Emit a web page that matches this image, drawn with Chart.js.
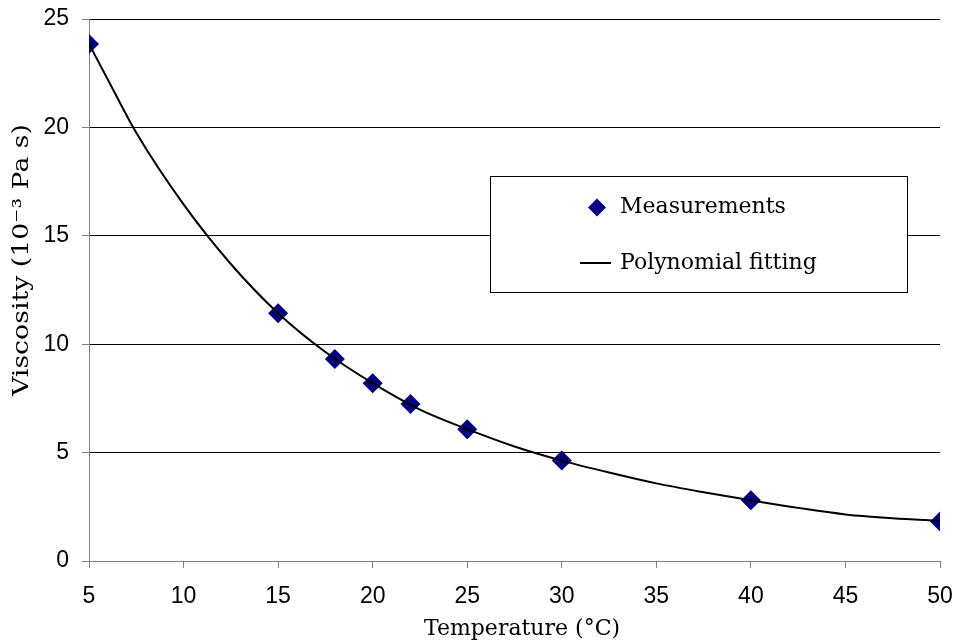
<!DOCTYPE html>
<html><head><meta charset="utf-8">
<script src="https://cdn.jsdelivr.net/npm/chart.js@4"></script>
<style>html,body{margin:0;padding:0;background:#fff}#wrap{width:956px;height:642px}</style>
</head><body><div id="wrap"><canvas id="c" width="956" height="642"></canvas></div>
<script>
const measTemp = [5, 15, 18, 20, 22, 25, 30, 40, 50];
const measVisc = [23.85, 11.43, 9.32, 8.2, 7.24, 6.08, 4.63, 2.8, 1.82];
const fitTemp = [5, 6, 7.5, 10, 12.5, 15, 17.5, 20, 22.5, 25, 27.5, 30, 32.5, 35, 37.5, 40, 42.5, 45, 47.5, 50];
const fitVisc = [23.85, 22.2, 19.75, 16.45, 13.7, 11.43, 9.64, 8.2, 6.98, 6.08, 5.28, 4.63, 4.08, 3.58, 3.17, 2.8, 2.45, 2.15, 1.97, 1.85];
const xTicks = [5, 10, 15, 20, 25, 30, 35, 40, 45, 50];
const yTicks = [0, 5, 10, 15, 20, 25];
const xTitle = 'Temperature (°C)';
const yTitle = 'Viscosity (10⁻³ Pa s)';
const seriesNames = ['Measurements', 'Polynomial fitting'];

const serif = '"DejaVu Serif", serif';
const sans = '"Liberation Sans", Arial, sans-serif';

const overlay = {
  id: 'overlay',
  afterDraw(chart) {
    const ctx = chart.ctx;
    ctx.save();
    ctx.fillStyle = '#000';
    ctx.font = '22px ' + serif;
    ctx.textAlign = 'center';
    ctx.textBaseline = 'middle';
    ctx.fillText(xTitle, 522, 629);
    ctx.save();
    ctx.translate(22, 260);
    ctx.rotate(-Math.PI / 2);
    const w = ctx.measureText(yTitle).width;
    ctx.scale(272 / w, 1);
    ctx.fillText(yTitle, 0, 0);
    ctx.restore();
    // legend
    ctx.fillStyle = '#fff';
    ctx.fillRect(490.5, 176.5, 417, 116);
    ctx.strokeStyle = '#000';
    ctx.lineWidth = 1;
    ctx.strokeRect(490.5, 176.5, 417, 116);
    ctx.fillStyle = '#000080';
    ctx.beginPath();
    ctx.moveTo(597, 198.5); ctx.lineTo(606, 207.5); ctx.lineTo(597, 216.5); ctx.lineTo(588, 207.5);
    ctx.closePath(); ctx.fill();
    ctx.strokeStyle = '#000'; ctx.lineWidth = 2;
    ctx.beginPath(); ctx.moveTo(580, 263); ctx.lineTo(611, 263); ctx.stroke();
    ctx.fillStyle = '#000';
    ctx.textAlign = 'left';
    ctx.fillText(seriesNames[0], 620, 207);
    ctx.fillText(seriesNames[1], 620, 263);
    ctx.restore();
  }
};

function zeroPad(s) { s.paddingTop = 0; s.paddingBottom = 0; s.paddingLeft = 0; s.paddingRight = 0; }

new Chart(document.getElementById('c'), {
  type: 'scatter',
  data: {
    datasets: [
      {
        label: seriesNames[1],
        data: fitTemp.map((t, i) => ({x: t, y: fitVisc[i]})),
        showLine: true,
        borderColor: '#000',
        borderWidth: 2,
        pointRadius: 0,
        cubicInterpolationMode: 'monotone',
        order: 0
      },
      {
        label: seriesNames[0],
        data: measTemp.map((t, i) => ({x: t, y: measVisc[i]})),
        showLine: false,
        pointStyle: 'rectRot',
        pointRadius: 10,
        backgroundColor: '#000080',
        borderColor: '#000080',
        borderWidth: 0,
        order: 1
      }
    ]
  },
  options: {
    responsive: false,
    animation: false,
    devicePixelRatio: 1,
    layout: {padding: {top: 19, right: 16, left: 0, bottom: 0}},
    plugins: {legend: {display: false}, tooltip: {enabled: false}},
    scales: {
      x: {
        type: 'linear', min: 5, max: 50,
        afterBuildTicks: s => { s.ticks = xTicks.map(v => ({value: v})); },
        afterFit: s => { s.height = 81; zeroPad(s); },
        ticks: {font: {family: sans, size: 23}, color: '#000', padding: 15, maxRotation: 0},
        grid: {drawOnChartArea: false, tickLength: 7, color: '#808080', lineWidth: 1},
        border: {color: '#808080', width: 1}
      },
      y: {
        min: 0, max: 25,
        afterBuildTicks: s => { s.ticks = yTicks.map(v => ({value: v})); },
        afterFit: s => { s.width = 89; zeroPad(s); },
        ticks: {font: {family: sans, size: 23}, color: '#000', padding: 13},
        grid: {
          color: c => (c.tick && c.tick.value === 0) ? '#808080' : '#000',
          tickColor: '#808080', tickLength: 7, lineWidth: 1
        },
        border: {color: '#808080', width: 1}
      }
    }
  },
  plugins: [overlay]
});
</script></body></html>
